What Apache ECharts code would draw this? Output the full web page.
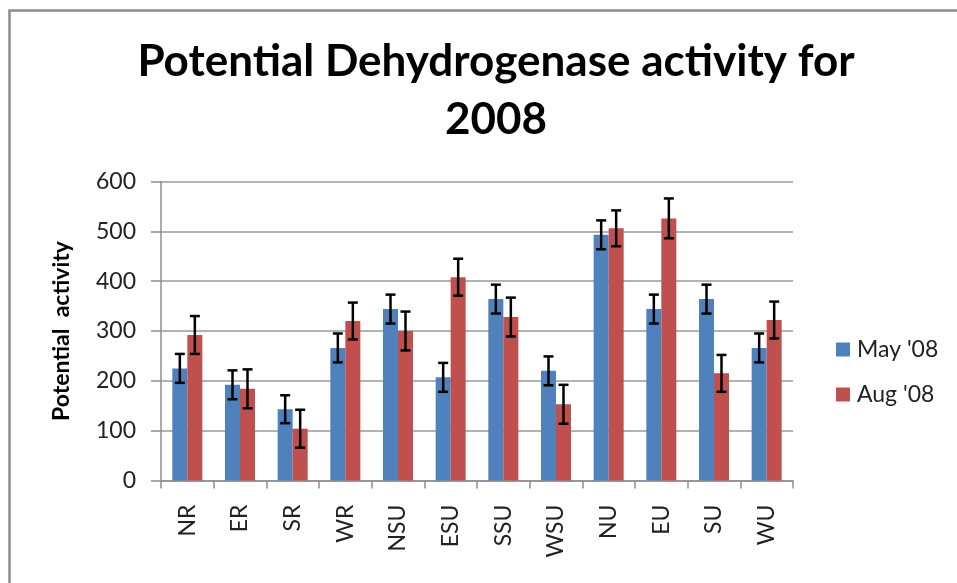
<!DOCTYPE html>
<html lang="en">
<head>
    <meta charset="UTF-8">
    <title>Potential Dehydrogenase activity for 2008</title>
    <style>
        html, body { margin: 0; padding: 0; background: #fff; }
        #main { width: 957px; height: 583px; }
    </style>
</head>
<body>
<script src="https://cdn.jsdelivr.net/npm/echarts@6/dist/echarts.min.js"></script>
<div id="main"></div>
<script type="text/javascript">
    // data
    var sites = ['NR', 'ER', 'SR', 'WR', 'NSU', 'ESU', 'SSU', 'WSU', 'NU', 'EU', 'SU', 'WU'];
    var may08 = [225, 192, 143, 266, 344, 207, 364, 220, 493, 344, 364, 266];
    var aug08 = [292, 184, 104, 320, 300, 408, 328, 153, 506, 526, 215, 322];
    var mayErr = [29, 29, 28, 29, 29, 29, 29, 29, 29, 29, 29, 29];
    var augErr = [38, 39, 38, 37, 39, 37, 39, 39, 36, 40, 37, 37];
    var yTicks = [0, 100, 200, 300, 400, 500, 600];

    var FONT = 'Lato';
    var BAR_W = 15;

    function errData(vals, errs) {
        var out = [];
        for (var i = 0; i < vals.length; i++) {
            out.push([i, vals[i], errs[i]]);
        }
        return out;
    }

    // draws an error bar with caps, shifted to sit over its bar
    function errRenderer(offset) {
        return function (params, api) {
            var x = api.value(0), v = api.value(1), e = api.value(2);
            var hi = api.coord([x, v + e]);
            var lo = api.coord([x, v - e]);
            var cx = hi[0] + offset;
            var cap = 5;
            var st = { stroke: '#000', lineWidth: 2.5 };
            return {
                type: 'group',
                children: [
                    { type: 'line', shape: { x1: cx, y1: hi[1], x2: cx, y2: lo[1] }, style: st },
                    { type: 'line', shape: { x1: cx - cap, y1: hi[1], x2: cx + cap, y2: hi[1] }, style: st },
                    { type: 'line', shape: { x1: cx - cap, y1: lo[1], x2: cx + cap, y2: lo[1] }, style: st }
                ]
            };
        };
    }

    var myChart = echarts.init(document.getElementById('main'));

    myChart.setOption({
        animation: false,
        backgroundColor: '#fff',
        textStyle: { fontFamily: FONT },
        title: {
            text: 'Potential Dehydrogenase activity for\n2008',
            left: 491,
            top: 28,
            textAlign: 'center',
            textStyle: {
                fontFamily: FONT,
                fontSize: 44,
                fontWeight: 'bold',
                color: '#000',
                lineHeight: 58,
                align: 'center'
            }
        },
        graphic: [{
            type: 'rect',
            shape: { x: 9.5, y: 10.5, width: 1000, height: 700 },
            style: { fill: null, stroke: '#8c8c8c', lineWidth: 2.5 },
            silent: true
        }],
        legend: {
            orient: 'vertical',
            left: 831,
            top: 333,
            itemWidth: 14,
            itemHeight: 14,
            itemGap: 22,
            icon: 'rect',
            textStyle: { fontFamily: FONT, fontSize: 23, color: '#222', padding: [0, 0, 0, 2] },
            data: ["May '08", "Aug '08"]
        },
        grid: {
            left: 161,
            right: 164,
            top: 181.5,
            bottom: 102.5,
            containLabel: false
        },
        xAxis: {
            type: 'category',
            data: sites,
            axisLine: { lineStyle: { color: '#8f8f8f', width: 1.5 } },
            axisTick: { show: true, length: 8, lineStyle: { color: '#8f8f8f', width: 1.5 } },
            axisLabel: {
                rotate: 90,
                margin: 24,
                fontFamily: FONT,
                fontSize: 23,
                color: '#222'
            }
        },
        yAxis: {
            type: 'value',
            min: 0,
            max: 600,
            interval: 100,
            name: 'Potential  activity',
            nameLocation: 'middle',
            nameGap: 88,
            nameRotate: 90,
            nameTextStyle: { fontFamily: FONT, fontSize: 23, fontWeight: 'bold', color: '#000' },
            axisLine: { show: true, lineStyle: { color: '#8f8f8f', width: 1.5 } },
            axisTick: { show: true, length: 10, lineStyle: { color: '#8f8f8f', width: 1.5 } },
            splitLine: { lineStyle: { color: '#9a9a9a', width: 1.5 } },
            axisLabel: {
                margin: 25,
                fontFamily: FONT,
                fontSize: 23,
                color: '#222',
                formatter: function (v) { return yTicks.indexOf(v) >= 0 ? String(v) : ''; }
            }
        },
        series: [
            {
                name: "May '08",
                type: 'bar',
                barWidth: BAR_W,
                barGap: '0%',
                itemStyle: { color: '#4F81BD' },
                data: may08
            },
            {
                name: "Aug '08",
                type: 'bar',
                barWidth: BAR_W,
                barGap: '0%',
                itemStyle: { color: '#C0504D' },
                data: aug08
            },
            {
                type: 'custom',
                name: 'mayErr',
                renderItem: errRenderer(-BAR_W / 2),
                encode: { x: 0, y: 1 },
                z: 10,
                silent: true,
                data: errData(may08, mayErr)
            },
            {
                type: 'custom',
                name: 'augErr',
                renderItem: errRenderer(BAR_W / 2),
                encode: { x: 0, y: 1 },
                z: 10,
                silent: true,
                data: errData(aug08, augErr)
            }
        ]
    });
</script>
</body>
</html>
